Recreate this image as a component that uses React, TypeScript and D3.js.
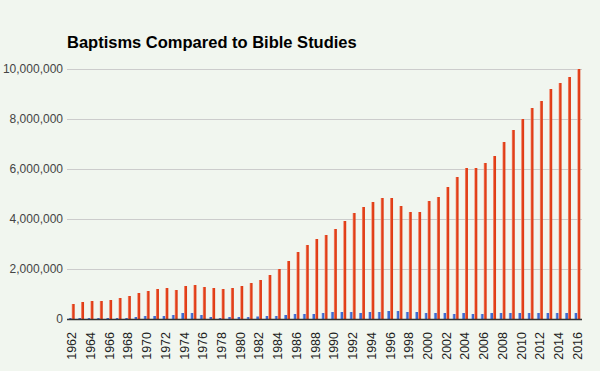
import { useEffect, useRef } from "react";
import * as d3 from 'd3';

const years = d3.range(1962, 2017).map(String);

// Bible studies (red)
const bibleStudies = [
    600000, 680000, 720000, 720000, 760000, 840000, 920000, 1040000, 1120000, 1200000,
    1240000, 1160000, 1320000, 1360000, 1280000, 1240000, 1200000, 1240000, 1320000, 1440000,
    1560000, 1760000, 2000000, 2320000, 2680000, 2960000, 3200000, 3360000, 3600000, 3920000,
    4240000, 4480000, 4680000, 4840000, 4840000, 4520000, 4280000, 4280000, 4720000, 4880000,
    5280000, 5680000, 6040000, 6040000, 6240000, 6520000, 7080000, 7560000, 8000000, 8440000,
    8720000, 9200000, 9440000, 9680000, 10000000,
];

// Baptisms (blue)
const baptisms = [
    40000, 40000, 40000, 40000, 40000, 40000, 40000, 80000, 120000, 120000,
    120000, 160000, 240000, 240000, 160000, 80000, 40000, 80000, 80000, 80000,
    100000, 120000, 120000, 160000, 200000, 200000, 200000, 240000, 280000, 280000,
    280000, 240000, 280000, 280000, 320000, 320000, 280000, 280000, 240000, 240000,
    240000, 200000, 240000, 200000, 200000, 240000, 240000, 240000, 240000, 240000,
    240000, 240000, 240000, 240000, 240000,
];

const yTicks = [0, 2000000, 4000000, 6000000, 8000000, 10000000];
const title = "Baptisms Compared to Bible Studies";

const W = 600, H = 371;
const left = 67, right = 582, top = 69, bottom = 319;

export default function App() {
    const svgEl = useRef(null);

    useEffect(() => {
        const svg = d3.select(svgEl.current);
        svg.selectChildren().remove();

        const x = d3.scaleBand().domain(years).range([left, right]).paddingInner(0.36).paddingOuter(0.18);
        const xs = d3.scaleBand().domain(['b', 's']).range([0, x.bandwidth()]);
        const y = d3.scaleLinear().domain([0, 10000000]).range([bottom, top]);

        const defs = svg.append('defs');
        const grad = (id: string, c0: string, c1: string, c2: string) => {
            const g = defs.append('linearGradient').attr('id', id).attr('x1', 0).attr('x2', 1).attr('y1', 0).attr('y2', 0);
            g.append('stop').attr('offset', '0%').attr('stop-color', c0);
            g.append('stop').attr('offset', '40%').attr('stop-color', c1);
            g.append('stop').attr('offset', '100%').attr('stop-color', c2);
        };
        grad('gRed', '#f4a088', '#e4421c', '#dc3912');
        grad('gBlue', '#a9bff0', '#3f6dd2', '#3366cc');

        svg.append('rect').attr('width', W).attr('height', H).attr('fill', '#f1f6ef');

        svg.append('text')
            .attr('x', left).attr('y', 48)
            .attr('font-family', 'Arial, "Liberation Sans", sans-serif')
            .attr('font-weight', 'bold').attr('font-size', 16.5).attr('fill', '#000')
            .text(title);

        const grid = svg.append('g');
        grid.selectAll('line').data(yTicks.filter(t => t > 0)).join('line')
            .attr('x1', left).attr('x2', right)
            .attr('y1', d => Math.round(y(d)) + 0.5).attr('y2', d => Math.round(y(d)) + 0.5)
            .attr('stroke', '#cccccc');

        svg.append('g').selectAll('text').data(yTicks).join('text')
            .attr('x', 63).attr('y', d => y(d) + 4)
            .attr('text-anchor', 'end')
            .attr('font-family', 'Arial, "Liberation Sans", sans-serif')
            .attr('font-size', 12).attr('fill', '#444')
            .text(d => d3.format(',')(d));

        const groups = svg.append('g').selectAll('g').data(years).join('g')
            .attr('transform', d => `translate(${x(d)},0)`);
        groups.append('rect')
            .attr('x', xs('b')!).attr('width', xs.bandwidth())
            .attr('y', (d, i) => y(baptisms[i])).attr('height', (d, i) => bottom - y(baptisms[i]))
            .attr('fill', 'url(#gBlue)');
        groups.append('rect')
            .attr('x', xs('s')!).attr('width', xs.bandwidth())
            .attr('y', (d, i) => y(bibleStudies[i])).attr('height', (d, i) => bottom - y(bibleStudies[i]))
            .attr('fill', 'url(#gRed)');

        svg.append('line')
            .attr('x1', left).attr('x2', right)
            .attr('y1', bottom + 0.5).attr('y2', bottom + 0.5)
            .attr('stroke', '#333').attr('stroke-width', 1.5);

        svg.append('g').selectAll('text').data(years.filter((d, i) => i % 2 === 0)).join('text')
            .attr('transform', d => `translate(${x(d)! + x.bandwidth() / 2 + 4.5},332) rotate(-90)`)
            .attr('text-anchor', 'end')
            .attr('font-family', 'Arial, "Liberation Sans", sans-serif')
            .attr('font-size', 12.5).attr('fill', '#222')
            .text(d => d);
    }, []);

    return <svg ref={svgEl} width={W} height={H} style={{ position: 'absolute', left: 0, top: 0, display: 'block' }}>
    </svg>
}
